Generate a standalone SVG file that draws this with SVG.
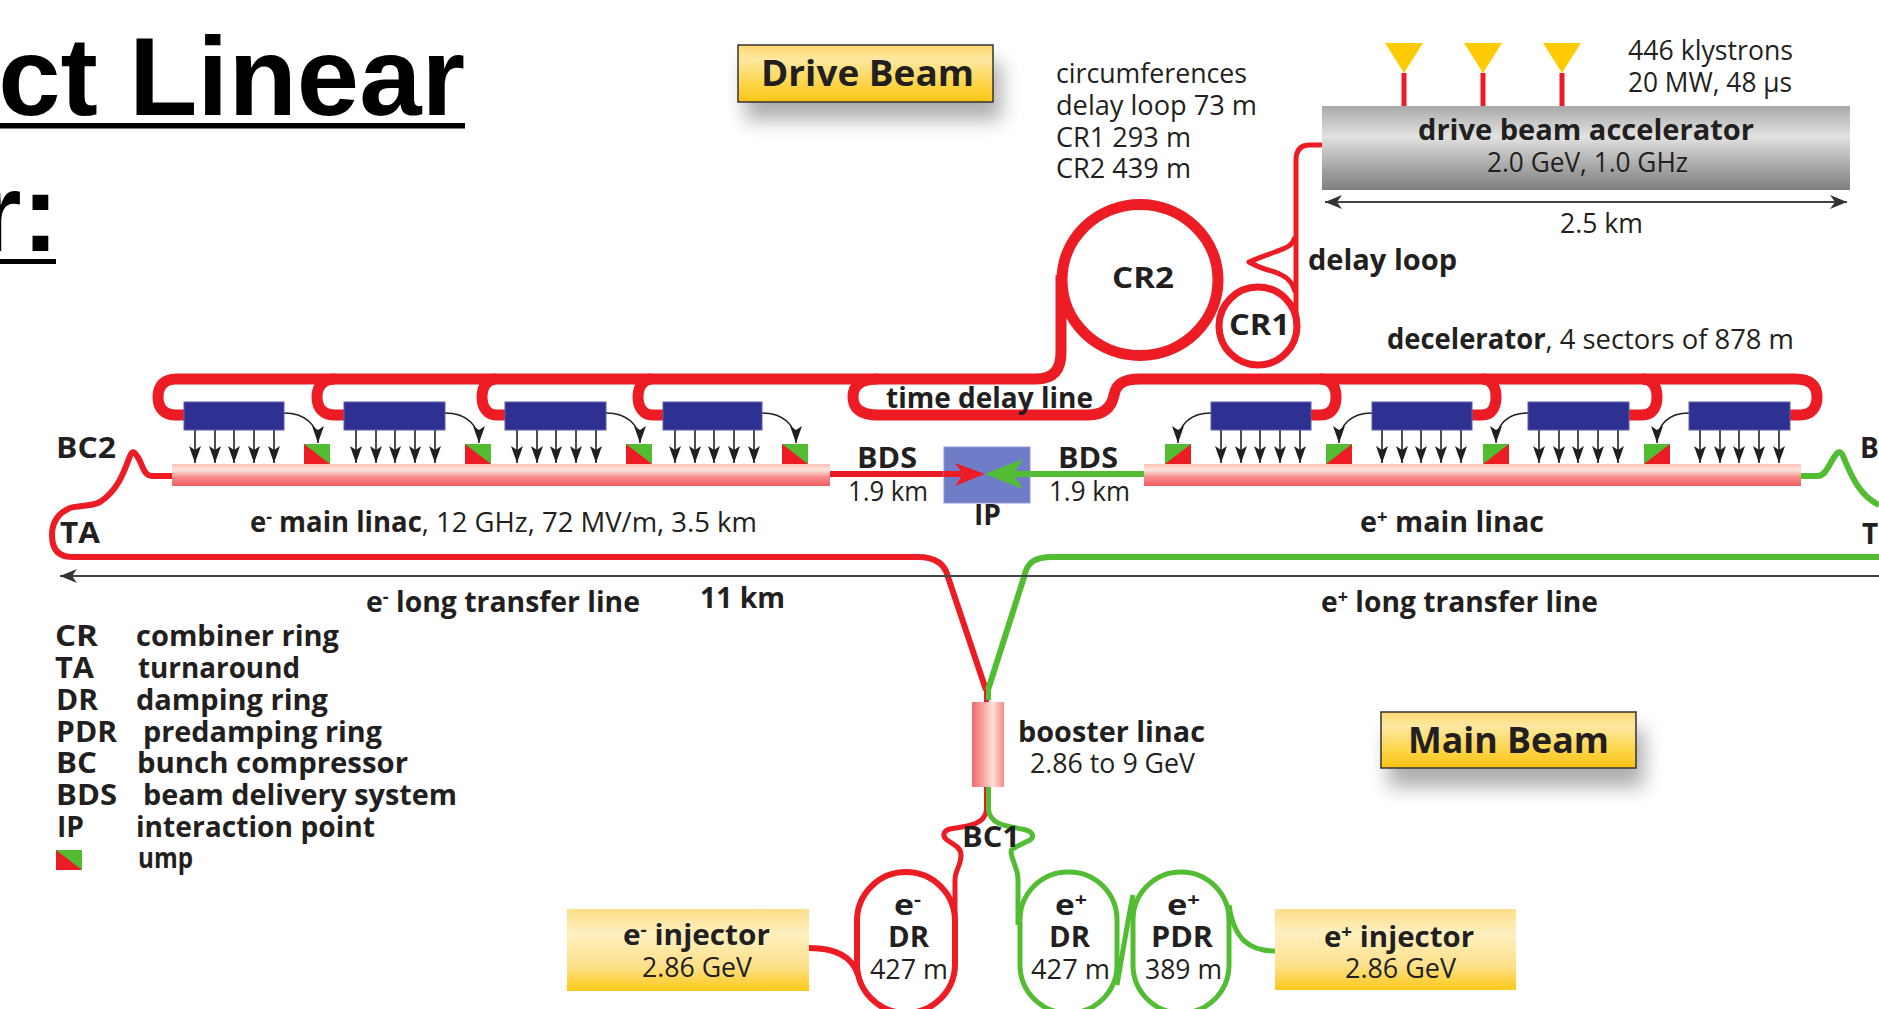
<svg xmlns="http://www.w3.org/2000/svg" width="1879" height="1009" viewBox="0 0 1879 1009">
<style>
text{font-family:"Open Sans","Noto Sans","Liberation Sans",sans-serif;fill:#231f20;font-size:28px}
.b{font-weight:700}
.t{font-family:"Liberation Sans",Arial,sans-serif;font-weight:700;font-size:112px;fill:#000}
.h{font-weight:700;font-size:36px}
.sup{font-size:18px}
.red,.grn{fill:none;stroke-linecap:butt;stroke-linejoin:round}
.red{stroke:#ed1c24}
.grn{stroke:#52bd32}
.w11{stroke-width:11}
.w6{stroke-width:6}
.w5{stroke-width:5}
.blue{fill:#2e3192;stroke:#5b5fae;stroke-width:1}
.feed{fill:none;stroke:#231f20;stroke-width:1.6;marker-end:url(#ah)}
.dim{fill:none;stroke:#444;stroke-width:2.2}
</style>
<defs>
<marker id="ah" markerUnits="userSpaceOnUse" markerWidth="20" markerHeight="14" refX="17" refY="6" orient="auto"><path d="M17 6 L0 0 L4 6 L0 12Z" fill="#231f20"/></marker>
<marker id="dm" markerUnits="userSpaceOnUse" markerWidth="20" markerHeight="14" refX="17" refY="7" orient="auto-start-reverse"><path d="M17 7 L0 0 L5 7 L0 14Z" fill="#333"/></marker>
<linearGradient id="yb" x1="0" y1="0" x2="0" y2="1"><stop offset="0" stop-color="#fed86e"/><stop offset=".25" stop-color="#fde8a2"/><stop offset=".7" stop-color="#fdd445"/><stop offset="1" stop-color="#fbc315"/></linearGradient>
<linearGradient id="yi" x1="0" y1="0" x2="0" y2="1"><stop offset="0" stop-color="#fddf8a"/><stop offset=".3" stop-color="#fef0c0"/><stop offset=".7" stop-color="#fde08a"/><stop offset="1" stop-color="#fcc919"/></linearGradient>
<linearGradient id="gy" x1="0" y1="0" x2="0" y2="1"><stop offset="0" stop-color="#a9a9a9"/><stop offset=".36" stop-color="#e2e2e2"/><stop offset=".7" stop-color="#ababab"/><stop offset="1" stop-color="#7f7f7f"/></linearGradient>
<linearGradient id="li" x1="0" y1="0" x2="0" y2="1"><stop offset="0" stop-color="#fdc3b8"/><stop offset=".28" stop-color="#fde3dc"/><stop offset=".6" stop-color="#f78d8c"/><stop offset="1" stop-color="#f05c60"/></linearGradient>
<linearGradient id="bo" x1="0" y1="0" x2="1" y2="0"><stop offset="0" stop-color="#f0696c"/><stop offset=".35" stop-color="#f7a5a2"/><stop offset=".65" stop-color="#fde0d8"/><stop offset="1" stop-color="#f58c8a"/></linearGradient>
<filter id="sh" x="-15%" y="-40%" width="130%" height="200%"><feGaussianBlur stdDeviation="10"/></filter>
<g id="dl"><rect width="26" height="20" fill="#52bd32"/><path d="M0 0L26 20H0Z" fill="#ed1c24"/></g>
<g id="dr"><rect width="26" height="20" fill="#52bd32"/><path d="M26 0V20H0Z" fill="#ed1c24"/></g>
<g id="fan">
<path class="feed" d="M0 430V463"/><path class="feed" d="M20 430V463"/><path class="feed" d="M39 430V463"/><path class="feed" d="M59 430V463"/><path class="feed" d="M79 430V463"/>
</g>
</defs>
<rect width="1879" height="1009" fill="#fff"/>

<g id="title">
<text class="t" x="465" y="115" text-anchor="end">ct Linear</text>
<rect x="0" y="123" width="465" height="5.500" fill="#000"/>
<text class="t" x="59" y="251" text-anchor="end">r:</text>
<rect x="0" y="259" width="56" height="5" fill="#000"/>
</g>

<g id="connectors">
<path class="red w11" d="M184 415H176C164 415 158 408 158 397C158 386 164 379 176 379H1036C1053 379 1061 370 1061 352V275"/>
<path class="red w11" d="M344 415H335C323 415 317 408 317 397C317 386 323 379 335 379"/>
<path class="red w11" d="M505 415H496C488 415 482 408 482 397C482 386 488 379 496 379"/>
<path class="red w11" d="M663 415H652C644 415 638 408 638 397C638 386 644 379 652 379"/>
<path class="red w11" d="M878 379C860 379 853 386 853 397C853 408 860 415 878 415H1088C1106 415 1112 405 1114 395C1116 385 1122 379 1140 379H1795C1811 379 1817 386 1817 397C1817 408 1811 415 1800 415H1790"/>
<path class="red w11" d="M1311 415H1320C1331 415 1336 408 1336 397C1336 386 1331 379 1320 379"/>
<path class="red w11" d="M1472 415H1482C1491 415 1496 408 1496 397C1496 386 1491 379 1482 379"/>
<path class="red w11" d="M1629 415H1642C1652 415 1657 408 1657 397C1657 386 1652 379 1642 379"/>
<ellipse class="red w11" cx="1140" cy="280" rx="78" ry="75.500"/>
<circle cx="1258" cy="326" r="39" fill="none" stroke="#ed1c24" stroke-width="7"/>
<path class="red w5" d="M1322 145H1310C1300 145 1296 151 1296 160V326"/>
<path class="red w5" d="M1295 237C1292 247 1285 248 1275 252C1263 256 1256 259 1249 262C1256 266 1263 269 1275 272C1285 276 1292 280 1295 292"/>
<path class="red w5" d="M1404 73V106M1483 73V106M1562 73V106"/>
<path class="red w6" d="M172 476H152C143 476 142 462 137 456C134 451 132 451 130 456C124 472 118 490 100 502C90 507 80 505 70 508C56 514 52 524 52 535C52 549 58 557 72 557H918C936 557 945 564 948 577L986 690"/>
<path class="grn w6" d="M1801 476H1818C1826 476 1830 462 1835 456C1838 451 1841 451 1843 456C1850 472 1858 495 1879 505"/>
<path class="grn w6" d="M1879 557H1052C1035 557 1027 562 1024 577L988 690"/>
<path class="red w6" d="M830 474H960"/>
<path class="grn w6" d="M1144 474H1010"/>
<path class="red w5" d="M986.500 690V810C985 824 970 826 950 829C943 831 942 836 947 840C955 845 961 848 961 855C961 866 955 870 955 880V930"/>
<path class="grn w5" d="M988.500 690V700M988.500 787V810C990 824 1005 826 1022 829C1033 831 1035 836 1030 840C1020 845 1011 848 1011 852C1013 865 1018 868 1018 880V925"/>
<path class="red w6" d="M809 948C832 948 852 955 858 975"/>
<path class="grn w5" d="M1117 985C1123 950 1128 920 1133 895"/>
<path class="grn w5" d="M1229 905C1234 940 1250 951 1275 951"/>
<path class="feed" d="M284 413C305 413 318 425 318 443"/>
<path class="feed" d="M445 413C466 413 479 425 479 443"/>
<path class="feed" d="M606 413C627 413 640 425 640 443"/>
<path class="feed" d="M762 413C783 413 796 425 796 443"/>
<path class="feed" d="M1211 413C1190 413 1178 425 1178 443"/>
<path class="feed" d="M1372 413C1351 413 1339 425 1339 443"/>
<path class="feed" d="M1528 413C1507 413 1496 425 1496 443"/>
<path class="feed" d="M1689 413C1668 413 1657 425 1657 443"/>
<use href="#fan" x="195"/><use href="#fan" x="356"/><use href="#fan" x="517"/><use href="#fan" x="675"/>
<use href="#fan" x="1221"/><use href="#fan" x="1382"/><use href="#fan" x="1539"/><use href="#fan" x="1700"/>
<path class="dim" d="M1879 576H60" marker-end="url(#dm)"/>
<path class="dim" d="M1325 202H1847" marker-start="url(#dm)" marker-end="url(#dm)"/>
</g>

<g id="drive-beam-label">
<rect x="745" y="62" width="256" height="58" fill="#000" opacity=".32" filter="url(#sh)"/>
<rect x="738" y="45" width="255" height="57" fill="url(#yb)" stroke="#333" stroke-width="1.500"/>
<text class="h" x="761" y="86" textLength="213" lengthAdjust="spacingAndGlyphs">Drive Beam</text>
</g>
<g id="main-beam-label">
<rect x="1388" y="729" width="256" height="58" fill="#000" opacity=".32" filter="url(#sh)"/>
<rect x="1381" y="712" width="255" height="56" fill="url(#yb)" stroke="#333" stroke-width="1.500"/>
<text class="h" x="1408" y="753" textLength="201" lengthAdjust="spacingAndGlyphs">Main Beam</text>
</g>

<g id="circumferences">
<text x="1056" y="83" textLength="191" lengthAdjust="spacingAndGlyphs">circumferences</text>
<text x="1056" y="115" textLength="201" lengthAdjust="spacingAndGlyphs">delay loop 73 m</text>
<text x="1056" y="147" textLength="135" lengthAdjust="spacingAndGlyphs">CR1 293 m</text>
<text x="1056" y="178" textLength="135" lengthAdjust="spacingAndGlyphs">CR2 439 m</text>
</g>
<g id="klystrons">
<path d="M1385 43H1423L1404 73ZM1464 43H1502L1483 73ZM1543 43H1581L1562 73Z" fill="#ffcb05"/>
<text x="1628" y="60" textLength="165" lengthAdjust="spacingAndGlyphs">446 klystrons</text>
<text x="1628" y="92" textLength="164" lengthAdjust="spacingAndGlyphs">20 MW, 48 µs</text>
</g>
<g id="drive-beam-accelerator">
<rect x="1322" y="106" width="528" height="84" fill="url(#gy)"/>
<text class="b" x="1418" y="140" textLength="336" lengthAdjust="spacingAndGlyphs">drive beam accelerator</text>
<text x="1487" y="172" textLength="201" lengthAdjust="spacingAndGlyphs">2.0 GeV, 1.0 GHz</text>
</g>
<text id="length-25" x="1560" y="233" textLength="83" lengthAdjust="spacingAndGlyphs">2.5 km</text>
<text id="cr2" class="b" x="1112" y="288" textLength="62" lengthAdjust="spacingAndGlyphs">CR2</text>
<text id="cr1" class="b" x="1229" y="335" textLength="61" lengthAdjust="spacingAndGlyphs">CR1</text>
<text id="delay-loop" class="b" x="1308" y="270" textLength="149" lengthAdjust="spacingAndGlyphs">delay loop</text>
<text id="decelerator" x="1387" y="349" textLength="407" lengthAdjust="spacingAndGlyphs"><tspan class="b">decelerator</tspan>, 4 sectors of 878 m</text>
<text id="time-delay-line" class="b" x="886" y="408" textLength="207" lengthAdjust="spacingAndGlyphs">time delay line</text>

<g id="e-linac">
<rect x="172" y="464" width="658" height="22" fill="url(#li)"/>
<rect x="184" y="402" width="100" height="28" class="blue"/>
<rect x="344" y="402" width="101" height="28" class="blue"/>
<rect x="505" y="402" width="101" height="28" class="blue"/>
<rect x="663" y="402" width="99" height="28" class="blue"/>
<use href="#dl" x="304" y="444"/><use href="#dl" x="465" y="444"/><use href="#dl" x="626" y="444"/><use href="#dl" x="782" y="444"/>
<text x="250" y="532" textLength="507" lengthAdjust="spacingAndGlyphs"><tspan class="b">e<tspan class="sup" dy="-9">-</tspan><tspan dy="9"> main linac</tspan></tspan>, 12 GHz, 72 MV/m, 3.5 km</text>
</g>
<g id="p-linac">
<rect x="1144" y="464" width="657" height="22" fill="url(#li)"/>
<rect x="1211" y="402" width="100" height="28" class="blue"/>
<rect x="1372" y="402" width="100" height="28" class="blue"/>
<rect x="1528" y="402" width="101" height="28" class="blue"/>
<rect x="1689" y="402" width="101" height="28" class="blue"/>
<use href="#dr" x="1165" y="444"/><use href="#dr" x="1326" y="444"/><use href="#dr" x="1483" y="444"/><use href="#dr" x="1644" y="444"/>
<text class="b" x="1360" y="532" textLength="184" lengthAdjust="spacingAndGlyphs">e<tspan class="sup" dy="-9">+</tspan><tspan dy="9"> main linac</tspan></text>
</g>
<g id="ip">
<rect x="944" y="447" width="86" height="56" fill="#6f7dc8" stroke="#8d97d6"/>
<path class="red w6" d="M944 474H962"/>
<path class="grn w6" d="M1030 474H1014"/>
<path d="M955 463L985 474L955 486L963 474Z" fill="#ed1c24"/>
<path d="M1023 459L985 474L1023 489L1013 474Z" fill="#52bd32"/>
<text class="b" x="974" y="525" textLength="27" lengthAdjust="spacingAndGlyphs">IP</text>
</g>
<g id="bds">
<text class="b" x="857" y="468" textLength="60" lengthAdjust="spacingAndGlyphs">BDS</text>
<text x="848" y="501" textLength="80" lengthAdjust="spacingAndGlyphs">1.9 km</text>
<text class="b" x="1058" y="468" textLength="60" lengthAdjust="spacingAndGlyphs">BDS</text>
<text x="1049" y="501" textLength="81" lengthAdjust="spacingAndGlyphs">1.9 km</text>
</g>
<text id="bc2" class="b" x="56" y="458" textLength="60" lengthAdjust="spacingAndGlyphs">BC2</text>
<text id="ta" class="b" x="60" y="543" textLength="40" lengthAdjust="spacingAndGlyphs">TA</text>
<text id="bc2-right" class="b" x="1860" y="458">B</text>
<text id="ta-right" class="b" x="1862" y="544">T</text>
<text id="e-ltl" class="b" x="366" y="612" textLength="274" lengthAdjust="spacingAndGlyphs">e<tspan class="sup" dy="-9">-</tspan><tspan dy="9"> long transfer line</tspan></text>
<text id="p-ltl" class="b" x="1321" y="612" textLength="277" lengthAdjust="spacingAndGlyphs">e<tspan class="sup" dy="-9">+</tspan><tspan dy="9"> long transfer line</tspan></text>
<text id="length-11" class="b" x="700" y="608" textLength="85" lengthAdjust="spacingAndGlyphs">11 km</text>

<g id="legend">
<text class="b" x="55" y="646" textLength="43" lengthAdjust="spacingAndGlyphs">CR</text><text class="b" x="136" y="646" textLength="203" lengthAdjust="spacingAndGlyphs">combiner ring</text>
<text class="b" x="55" y="678" textLength="39" lengthAdjust="spacingAndGlyphs">TA</text><text class="b" x="138" y="678" textLength="162" lengthAdjust="spacingAndGlyphs">turnaround</text>
<text class="b" x="56" y="710" textLength="42" lengthAdjust="spacingAndGlyphs">DR</text><text class="b" x="136" y="710" textLength="192" lengthAdjust="spacingAndGlyphs">damping ring</text>
<text class="b" x="56" y="742" textLength="61" lengthAdjust="spacingAndGlyphs">PDR</text><text class="b" x="143" y="742" textLength="239" lengthAdjust="spacingAndGlyphs">predamping ring</text>
<text class="b" x="56" y="773" textLength="41" lengthAdjust="spacingAndGlyphs">BC</text><text class="b" x="137" y="773" textLength="271" lengthAdjust="spacingAndGlyphs">bunch compressor</text>
<text class="b" x="56" y="805" textLength="61" lengthAdjust="spacingAndGlyphs">BDS</text><text class="b" x="143" y="805" textLength="314" lengthAdjust="spacingAndGlyphs">beam delivery system</text>
<text class="b" x="57" y="837" textLength="27" lengthAdjust="spacingAndGlyphs">IP</text><text class="b" x="136" y="837" textLength="239" lengthAdjust="spacingAndGlyphs">interaction point</text>
<use href="#dl" x="56" y="850"/>
<text class="b" x="138" y="868" textLength="55" lengthAdjust="spacingAndGlyphs">ump</text>
</g>

<g id="booster-linac">
<rect x="972" y="702" width="32" height="85" fill="url(#bo)"/>
<text class="b" x="1018" y="742" textLength="187" lengthAdjust="spacingAndGlyphs">booster linac</text>
<text x="1030" y="773" textLength="165" lengthAdjust="spacingAndGlyphs">2.86 to 9 GeV</text>
</g>
<text id="bc1" class="b" x="962" y="847" textLength="58" lengthAdjust="spacingAndGlyphs">BC1</text>
<g id="e-dr">
<rect x="857" y="872" width="98" height="141" rx="49" class="red w6"/>
<text class="b" x="894" y="915" textLength="27" lengthAdjust="spacingAndGlyphs">e<tspan class="sup" dy="-9">-</tspan></text>
<text class="b" x="888" y="947" textLength="41" lengthAdjust="spacingAndGlyphs">DR</text>
<text x="870" y="979" textLength="78" lengthAdjust="spacingAndGlyphs">427 m</text>
</g>
<g id="p-dr">
<rect x="1020" y="872" width="97" height="141" rx="48" class="grn w5"/>
<text class="b" x="1055" y="915" textLength="32" lengthAdjust="spacingAndGlyphs">e<tspan class="sup" dy="-9">+</tspan></text>
<text class="b" x="1049" y="947" textLength="41" lengthAdjust="spacingAndGlyphs">DR</text>
<text x="1031" y="979" textLength="79" lengthAdjust="spacingAndGlyphs">427 m</text>
</g>
<g id="p-pdr">
<rect x="1133" y="872" width="96" height="141" rx="48" class="grn w5"/>
<text class="b" x="1167" y="915" textLength="33" lengthAdjust="spacingAndGlyphs">e<tspan class="sup" dy="-9">+</tspan></text>
<text class="b" x="1151" y="947" textLength="62" lengthAdjust="spacingAndGlyphs">PDR</text>
<text x="1145" y="979" textLength="77" lengthAdjust="spacingAndGlyphs">389 m</text>
</g>
<g id="e-injector">
<rect x="567" y="909" width="242" height="82" fill="url(#yi)"/>
<text class="b" x="623" y="945" textLength="147" lengthAdjust="spacingAndGlyphs">e<tspan class="sup" dy="-9">-</tspan><tspan dy="9"> injector</tspan></text>
<text x="642" y="977" textLength="110" lengthAdjust="spacingAndGlyphs">2.86 GeV</text>
</g>
<g id="p-injector">
<rect x="1275" y="909" width="241" height="81" fill="url(#yi)"/>
<text class="b" x="1324" y="947" textLength="150" lengthAdjust="spacingAndGlyphs">e<tspan class="sup" dy="-9">+</tspan><tspan dy="9"> injector</tspan></text>
<text x="1345" y="978" textLength="111" lengthAdjust="spacingAndGlyphs">2.86 GeV</text>
</g>
</svg>
